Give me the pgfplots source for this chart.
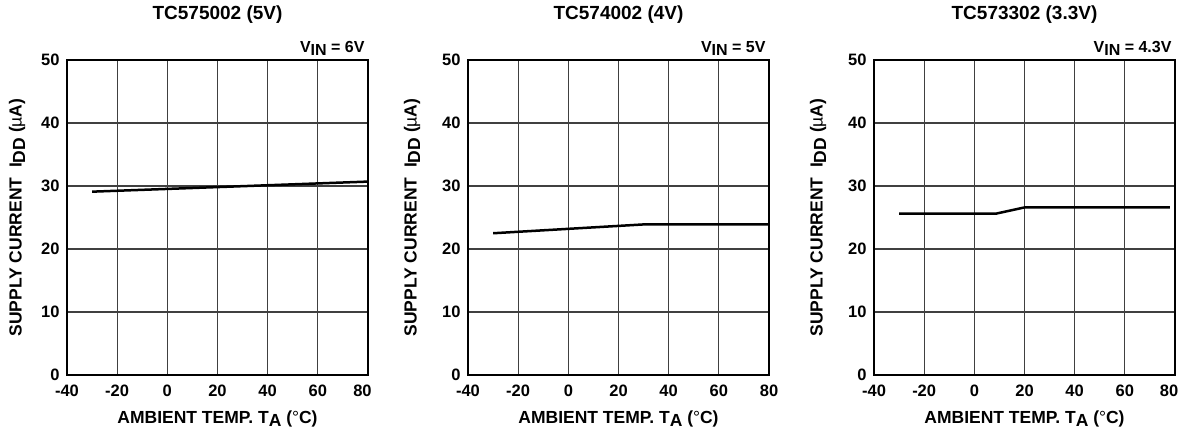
\documentclass[border=0pt]{standalone}
\usepackage{fontspec}
\setmainfont{Liberation Sans}
\usepackage{pgfplots}
\pgfplotsset{compat=1.18}

\newcommand{\sub}[1]{\raisebox{-3.5bp}{#1}}
\newcommand{\fs}[1]{\fontsize{#1}{#1}\selectfont\bfseries}

\pgfplotsset{
  tcaxis/.style={
    scale only axis, width=301bp, height=315bp,
    xmin=-40, xmax=80, ymin=0, ymax=50,
    xtick={-40,-20,...,80}, ytick={0,10,...,50},
    grid=major,
    major grid style={black!75, line width=1.1bp},
    axis line style={line width=2bp},
    tick style={draw=none},
    clip=false,
    /pgf/number format/assume math mode=true,
    ticklabel style={font=\fs{16.5bp}},
    xticklabel style={yshift=-6bp},
    yticklabel style={xshift=-4bp},
    title style={at={(axis description cs:0.5,1)}, anchor=base, yshift=35bp, font=\fs{19bp}},
    xlabel style={at={(axis description cs:0.5,0)}, anchor=base, yshift=-48bp, font=\fs{17.5bp}},
    ylabel style={anchor=center, font=\fs{17.5bp}},
    xlabel={AMBIENT TEMP. T\sub{A} ({\mdseries\char"00B0}C)},
    ylabel={SUPPLY CURRENT \ I\sub{DD} ({\mdseries\char"00B5}A)},
  },
  curve/.style={black, line width=2.5bp, no marks},
}

\begin{document}
\begin{tikzpicture}
\useasboundingbox (0,0) rectangle (1182bp,430bp);

% TC575002 (5V)
\begin{axis}[tcaxis, at={(67bp,55bp)}, anchor=south west,
  title={TC575002 (5V)},
  ylabel style={at={(axis description cs:-0.166,0.5)}},
  xticklabels={{-40},{-20},{0},{20},{40},{60},{80\rule{11bp}{0pt}}}]
  \addplot[curve] coordinates {(-30,29.1) (80,30.7)};
  \node[anchor=base east, font=\fs{16bp}] at (axis description cs:1,1) [yshift=8bp] {V\sub{IN} = 6V};
\end{axis}

% TC574002 (4V)
\begin{axis}[tcaxis, at={(468bp,55bp)}, anchor=south west,
  title={TC574002 (4V)},
  ylabel style={at={(axis description cs:-0.186,0.5)}}]
  \addplot[curve] coordinates {(-30,22.5) (30,23.9) (80,23.9)};
  \node[anchor=base east, font=\fs{16bp}] at (axis description cs:1,1) [yshift=8bp] {V\sub{IN} = 5V};
\end{axis}

% TC573302 (3.3V)
\begin{axis}[tcaxis, at={(874bp,55bp)}, anchor=south west,
  title={TC573302 (3.3V)},
  ylabel style={at={(axis description cs:-0.186,0.5)}},
  xticklabels={{-40},{-20},{0},{20},{40},{60},{80\rule{12bp}{0pt}}}]
  \addplot[curve] coordinates {(-30,25.6) (8.5,25.6) (20,26.6) (78,26.6)};
  \node[anchor=base east, font=\fs{16bp}] at (axis description cs:1,1) [yshift=8bp] {V\sub{IN} = 4.3V};
\end{axis}
\end{tikzpicture}
\end{document}
